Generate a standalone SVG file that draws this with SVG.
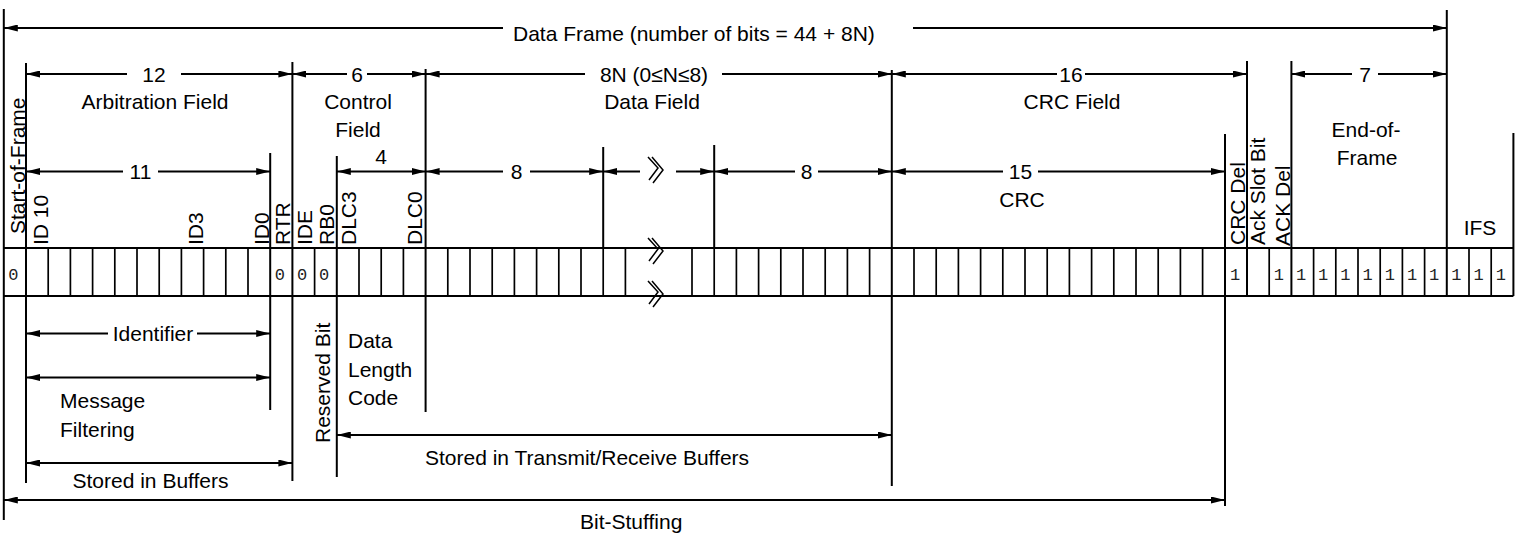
<svg xmlns="http://www.w3.org/2000/svg" xmlns:xlink="http://www.w3.org/1999/xlink" width="1520" height="535" viewBox="0 0 1520 535">
  <style>
    .ln { stroke: #000; stroke-width: 2; fill: none; }
    .cell { stroke: #000; stroke-width: 1.7; }
    .dim { stroke: #000; stroke-width: 2; fill: none; }
    .l { marker-start: url(#ah); }
    .r { marker-end: url(#ah); }
    .b { marker-start: url(#ah); marker-end: url(#ah); }
    text { font-family: "Liberation Sans", Arial, Helvetica, sans-serif; font-size: 21px; fill: #000; }
    .c { text-anchor: middle; }
    .bit { font-family: "Liberation Mono", "Courier New", monospace; font-size: 17px; fill: #222; }
    .brk { stroke: #000; stroke-width: 1.5; fill: none; }
  </style>
  <defs>
    <marker id="ah" viewBox="0 0 14 7" refX="14" refY="3.5" markerWidth="14" markerHeight="7" markerUnits="userSpaceOnUse" orient="auto-start-reverse">
      <path d="M0,0 L14,3.5 L0,7 Z" fill="#000"/>
    </marker>
    <g id="brk-sym">
      <path class="brk" d="M-8,-13 L2,-2 L-7,10 M-4,-13 L7,0 L-3,13"/>
    </g>
  </defs>
  <rect width="1520" height="535" fill="#fff"/>

  <!-- bit cells of the data frame -->
  <g id="bit-row">
    <line class="ln" x1="3.8" y1="248" x2="1513.4" y2="248"/>
    <line class="ln" x1="3.8" y1="296" x2="1513.4" y2="296"/>
    <g class="cell">
      <line x1="48.2" y1="248" x2="48.2" y2="296"/>
      <line x1="70.4" y1="248" x2="70.4" y2="296"/>
      <line x1="92.6" y1="248" x2="92.6" y2="296"/>
      <line x1="114.8" y1="248" x2="114.8" y2="296"/>
      <line x1="137" y1="248" x2="137" y2="296"/>
      <line x1="159.2" y1="248" x2="159.2" y2="296"/>
      <line x1="181.4" y1="248" x2="181.4" y2="296"/>
      <line x1="203.6" y1="248" x2="203.6" y2="296"/>
      <line x1="225.8" y1="248" x2="225.8" y2="296"/>
      <line x1="248" y1="248" x2="248" y2="296"/>
      <line x1="314.6" y1="248" x2="314.6" y2="296"/>
      <line x1="359" y1="248" x2="359" y2="296"/>
      <line x1="381.2" y1="248" x2="381.2" y2="296"/>
      <line x1="403.4" y1="248" x2="403.4" y2="296"/>
      <line x1="447.8" y1="248" x2="447.8" y2="296"/>
      <line x1="470" y1="248" x2="470" y2="296"/>
      <line x1="492.2" y1="248" x2="492.2" y2="296"/>
      <line x1="514.4" y1="248" x2="514.4" y2="296"/>
      <line x1="536.6" y1="248" x2="536.6" y2="296"/>
      <line x1="558.8" y1="248" x2="558.8" y2="296"/>
      <line x1="581" y1="248" x2="581" y2="296"/>
      <line x1="603.2" y1="248" x2="603.2" y2="296"/>
      <line x1="625.4" y1="248" x2="625.4" y2="296"/>
      <line x1="692" y1="248" x2="692" y2="296"/>
      <line x1="714.2" y1="248" x2="714.2" y2="296"/>
      <line x1="736.4" y1="248" x2="736.4" y2="296"/>
      <line x1="758.6" y1="248" x2="758.6" y2="296"/>
      <line x1="780.8" y1="248" x2="780.8" y2="296"/>
      <line x1="803" y1="248" x2="803" y2="296"/>
      <line x1="825.2" y1="248" x2="825.2" y2="296"/>
      <line x1="847.4" y1="248" x2="847.4" y2="296"/>
      <line x1="869.6" y1="248" x2="869.6" y2="296"/>
      <line x1="914" y1="248" x2="914" y2="296"/>
      <line x1="936.2" y1="248" x2="936.2" y2="296"/>
      <line x1="958.4" y1="248" x2="958.4" y2="296"/>
      <line x1="980.6" y1="248" x2="980.6" y2="296"/>
      <line x1="1002.8" y1="248" x2="1002.8" y2="296"/>
      <line x1="1025" y1="248" x2="1025" y2="296"/>
      <line x1="1047.2" y1="248" x2="1047.2" y2="296"/>
      <line x1="1069.4" y1="248" x2="1069.4" y2="296"/>
      <line x1="1091.6" y1="248" x2="1091.6" y2="296"/>
      <line x1="1113.8" y1="248" x2="1113.8" y2="296"/>
      <line x1="1136" y1="248" x2="1136" y2="296"/>
      <line x1="1158.2" y1="248" x2="1158.2" y2="296"/>
      <line x1="1180.4" y1="248" x2="1180.4" y2="296"/>
      <line x1="1202.6" y1="248" x2="1202.6" y2="296"/>
      <line x1="1269.2" y1="248" x2="1269.2" y2="296"/>
      <line x1="1313.6" y1="248" x2="1313.6" y2="296"/>
      <line x1="1335.8" y1="248" x2="1335.8" y2="296"/>
      <line x1="1358" y1="248" x2="1358" y2="296"/>
      <line x1="1380.2" y1="248" x2="1380.2" y2="296"/>
      <line x1="1402.4" y1="248" x2="1402.4" y2="296"/>
      <line x1="1424.6" y1="248" x2="1424.6" y2="296"/>
      <line x1="1469" y1="248" x2="1469" y2="296"/>
      <line x1="1491.2" y1="248" x2="1491.2" y2="296"/>
    </g>
    <!-- fixed bit values -->
    <g class="bits">
      <text class="bit" x="8.3" y="279.5">0</text>
      <text class="bit" x="274.7" y="279.5">0</text>
      <text class="bit" x="296.9" y="279.5">0</text>
      <text class="bit" x="319.1" y="279.5">0</text>
      <text class="bit" x="1230" y="279.5">1</text>
      <text class="bit" x="1273.7" y="279.5">1</text>
      <text class="bit" x="1295.9" y="279.5">1</text>
      <text class="bit" x="1318.1" y="279.5">1</text>
      <text class="bit" x="1340.3" y="279.5">1</text>
      <text class="bit" x="1362.5" y="279.5">1</text>
      <text class="bit" x="1384.7" y="279.5">1</text>
      <text class="bit" x="1406.9" y="279.5">1</text>
      <text class="bit" x="1429.1" y="279.5">1</text>
      <text class="bit" x="1451.3" y="279.5">1</text>
      <text class="bit" x="1473.5" y="279.5">1</text>
      <text class="bit" x="1495.7" y="279.5">1</text>
    </g>
  </g>

  <!-- bit names written upward above their cells -->
  <g id="bit-labels">
    <text transform="translate(25,234) rotate(-90)">Start-of-Frame</text>
    <text transform="translate(48,245) rotate(-90)">ID 10</text>
    <text transform="translate(203,245) rotate(-90)">ID3</text>
    <text transform="translate(268.5,245) rotate(-90)">ID0</text>
    <text transform="translate(290,245) rotate(-90)">RTR</text>
    <text transform="translate(312,245) rotate(-90)">IDE</text>
    <text transform="translate(334,245) rotate(-90)">RB0</text>
    <text transform="translate(355.5,245) rotate(-90)">DLC3</text>
    <text transform="translate(422,245) rotate(-90)">DLC0</text>
    <text transform="translate(1245,245) rotate(-90)">CRC Del</text>
    <text transform="translate(1265,245) rotate(-90)">Ack Slot Bit</text>
    <text transform="translate(1289.5,246) rotate(-90)">ACK Del</text>
    <text transform="translate(330,443) rotate(-90)">Reserved Bit</text>
  </g>

  <!-- field names and bit counts -->
  <g id="field-labels">
    <text x="513" y="40.5">Data Frame (number of bits = 44 + 8N)</text>
    <text class="c" x="154" y="82">12</text>
    <text class="c" x="155" y="108.5">Arbitration Field</text>
    <text class="c" x="357" y="82">6</text>
    <text class="c" x="358" y="108.5">Control</text>
    <text class="c" x="358" y="137">Field</text>
    <text class="c" x="654" y="82">8N (0≤N≤8)</text>
    <text class="c" x="652" y="109">Data Field</text>
    <text class="c" x="1071" y="82">16</text>
    <text class="c" x="1072" y="109">CRC Field</text>
    <text class="c" x="1365" y="82">7</text>
    <text class="c" x="1366" y="137">End-of-</text>
    <text class="c" x="1367" y="165">Frame</text>
    <text class="c" x="140.5" y="179">11</text>
    <text class="c" x="381" y="164">4</text>
    <text class="c" x="516.5" y="179">8</text>
    <text class="c" x="806.5" y="179">8</text>
    <text class="c" x="1020.5" y="179">15</text>
    <text class="c" x="1022" y="207">CRC</text>
    <text class="c" x="1480" y="235">IFS</text>
    <text class="c" x="153" y="341">Identifier</text>
    <text x="60" y="408">Message</text>
    <text x="60" y="437">Filtering</text>
    <text x="72.5" y="488">Stored in Buffers</text>
    <text x="348" y="348">Data</text>
    <text x="348" y="377">Length</text>
    <text x="348" y="405">Code</text>
    <text x="425" y="465">Stored in Transmit/Receive Buffers</text>
    <text x="580" y="529">Bit-Stuffing</text>
  </g>

  <!-- boundary lines and dimension arrows -->
  <g id="connectors">
    <g class="ln">
      <line x1="3.8" y1="9" x2="3.8" y2="520"/>
      <line x1="26" y1="63" x2="26" y2="483"/>
      <line x1="270.2" y1="153" x2="270.2" y2="410"/>
      <line x1="292.4" y1="62" x2="292.4" y2="481"/>
      <line x1="336.8" y1="156" x2="336.8" y2="477"/>
      <line x1="425.6" y1="69" x2="425.6" y2="412"/>
      <line x1="603.2" y1="147" x2="603.2" y2="248"/>
      <line x1="714.2" y1="145" x2="714.2" y2="248"/>
      <line x1="891.8" y1="70" x2="891.8" y2="486"/>
      <line x1="1225" y1="134" x2="1225" y2="506"/>
      <line x1="1247" y1="61" x2="1247" y2="296"/>
      <line x1="1291.4" y1="61" x2="1291.4" y2="296"/>
      <line x1="1446.8" y1="10" x2="1446.8" y2="296"/>
      <line x1="1513.4" y1="133" x2="1513.4" y2="296"/>
    </g>
    <g class="dim">
      <!-- whole frame -->
      <line class="l" x1="3.8" y1="28" x2="503" y2="28"/>
      <line class="r" x1="913" y1="28" x2="1446.8" y2="28"/>
      <!-- fields -->
      <line class="l" x1="26" y1="74" x2="127" y2="74"/>
      <line class="r" x1="181" y1="74" x2="292.4" y2="74"/>
      <line class="l" x1="292.4" y1="74" x2="347" y2="74"/>
      <line class="r" x1="367" y1="74" x2="425.6" y2="74"/>
      <line class="l" x1="425.6" y1="74" x2="585" y2="74"/>
      <line class="r" x1="722" y1="74" x2="891.8" y2="74"/>
      <line class="l" x1="891.8" y1="74" x2="1057" y2="74"/>
      <line class="r" x1="1085" y1="74" x2="1247" y2="74"/>
      <line class="l" x1="1291.4" y1="74" x2="1352" y2="74"/>
      <line class="r" x1="1378" y1="74" x2="1446.8" y2="74"/>
      <!-- sub-fields -->
      <line class="l" x1="26" y1="171.5" x2="123" y2="171.5"/>
      <line class="r" x1="158" y1="171.5" x2="270.2" y2="171.5"/>
      <line class="b" x1="336.8" y1="171.5" x2="425.6" y2="171.5"/>
      <line class="l" x1="425.6" y1="171.5" x2="503" y2="171.5"/>
      <line class="r" x1="530" y1="171.5" x2="603.2" y2="171.5"/>
      <line class="l" x1="603.2" y1="171.5" x2="640" y2="171.5"/>
      <line class="r" x1="676" y1="171.5" x2="714.2" y2="171.5"/>
      <line class="l" x1="714.2" y1="171.5" x2="795" y2="171.5"/>
      <line class="r" x1="818" y1="171.5" x2="891.8" y2="171.5"/>
      <line class="l" x1="891.8" y1="171.5" x2="1003" y2="171.5"/>
      <line class="r" x1="1038" y1="171.5" x2="1225" y2="171.5"/>
      <!-- lower annotations -->
      <line class="l" x1="26" y1="333.5" x2="108" y2="333.5"/>
      <line class="r" x1="197" y1="333.5" x2="270.2" y2="333.5"/>
      <line class="b" x1="26" y1="377.5" x2="270.2" y2="377.5"/>
      <line class="b" x1="336.8" y1="435" x2="891.8" y2="435"/>
      <line class="b" x1="26" y1="463" x2="292.4" y2="463"/>
      <line class="b" x1="3.8" y1="500" x2="1225" y2="500"/>
    </g>
  </g>

  <!-- break marks for the omitted data bytes -->
  <g id="breaks">
    <use xlink:href="#brk-sym" x="656" y="170"/>
    <use xlink:href="#brk-sym" x="656" y="251"/>
    <use xlink:href="#brk-sym" x="656" y="294"/>
  </g>
</svg>
